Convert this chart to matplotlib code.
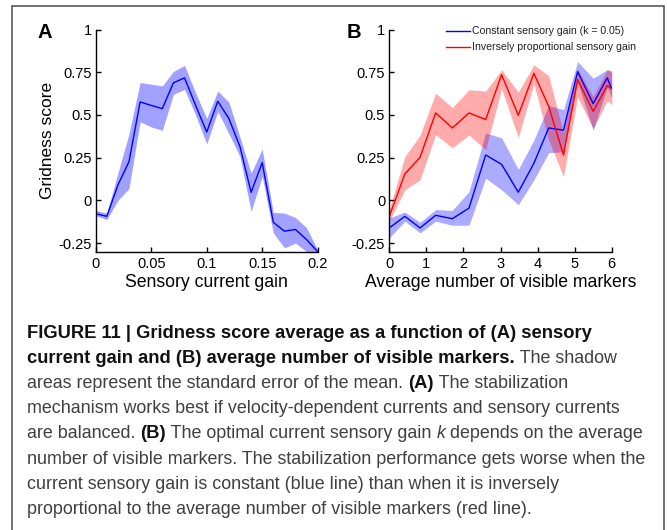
import matplotlib
matplotlib.use('Agg')
import matplotlib.pyplot as plt
from matplotlib.patches import Rectangle

W, H = 667, 530
FAM = ['Liberation Sans', 'DejaVu Sans']
plt.rcParams['font.family'] = FAM

# ---------------- data ----------------
# Panel A
gain = [0.00, 0.01, 0.02, 0.03, 0.04, 0.05, 0.06, 0.07, 0.08, 0.09, 0.10,
        0.11, 0.12, 0.13, 0.14, 0.15, 0.16, 0.17, 0.18, 0.19, 0.20]
gain_mean = [-0.078, -0.093, 0.09, 0.227, 0.576, 0.556, 0.537, 0.688, 0.717, 0.556, 0.40,
             0.58, 0.479, 0.314, 0.047, 0.221, -0.128, -0.18, -0.17, -0.229, -0.30]
gain_upper = [-0.058, -0.074, 0.16, 0.39, 0.69, 0.68, 0.67, 0.755, 0.79, 0.63, 0.48,
              0.64, 0.575, 0.37, 0.16, 0.30, -0.07, -0.074, -0.10, -0.16, -0.29]
gain_lower = [-0.089, -0.112, 0.0, 0.07, 0.46, 0.43, 0.41, 0.62, 0.65, 0.50, 0.33,
              0.52, 0.39, 0.256, -0.064, 0.14, -0.19, -0.277, -0.25, -0.30, -0.32]

# Panel B
markers = [0.0, 0.42, 0.83, 1.25, 1.70, 2.15, 2.60, 3.03, 3.48, 3.90, 4.30, 4.70, 5.08, 5.50, 5.88, 6.0]
const_mean = [-0.161, -0.093, -0.161, -0.087, -0.107, -0.045, 0.266, 0.211, 0.048, 0.217,
              0.424, 0.411, 0.754, 0.566, 0.717, 0.653]
const_upper = [-0.103, -0.068, -0.128, -0.054, -0.058, 0.052, 0.395, 0.366, 0.182, 0.353,
               0.556, 0.531, 0.812, 0.715, 0.765, 0.75]
const_lower = [-0.219, -0.122, -0.19, -0.122, -0.145, -0.145, 0.13, 0.062, -0.025, 0.12,
               0.279, 0.285, 0.692, 0.411, 0.663, 0.60]
inv_mean = [-0.093, 0.155, 0.252, 0.512, 0.424, 0.512, 0.473, 0.736, 0.498, 0.744,
            0.55, 0.266, 0.707, 0.521, 0.672, 0.653]
inv_upper = [-0.05, 0.256, 0.382, 0.628, 0.543, 0.647, 0.64, 0.764, 0.634, 0.793,
             0.73, 0.391, 0.769, 0.607, 0.765, 0.76]
inv_lower = [-0.12, 0.062, 0.12, 0.386, 0.308, 0.382, 0.298, 0.653, 0.368, 0.682,
             0.353, 0.14, 0.605, 0.42, 0.585, 0.56]

yticks = [-0.25, 0, 0.25, 0.5, 0.75, 1]
ytick_labels = ['-0.25', '0', '0.25', '0.5', '0.75', '1']
xticksA = [0, 0.05, 0.1, 0.15, 0.2]
xtick_labelsA = ['0', '0.05', '0.1', '0.15', '0.2']
xticksB = [0, 1, 2, 3, 4, 5, 6]
xtick_labelsB = ['0', '1', '2', '3', '4', '5', '6']

legend_labels = ['Constant sensory gain (k = 0.05)', 'Inversely proportional sensory gain']

caption_lines = [
    [("FIGURE 11 | Gridness score average as a function of (A) sensory", 'bold', 'normal')],
    [("current gain and (B) average number of visible markers.", 'bold', 'normal'),
     (" The shadow", 'normal', 'normal')],
    [("areas represent the standard error of the mean. ", 'normal', 'normal'),
     ("(A)", 'bold', 'normal'), (" The stabilization", 'normal', 'normal')],
    [("mechanism works best if velocity-dependent currents and sensory currents", 'normal', 'normal')],
    [("are balanced. ", 'normal', 'normal'), ("(B)", 'bold', 'normal'),
     (" The optimal current sensory gain ", 'normal', 'normal'), ("k", 'normal', 'italic'),
     (" depends on the average", 'normal', 'normal')],
    [("number of visible markers. The stabilization performance gets worse when the", 'normal', 'normal')],
    [("current sensory gain is constant (blue line) than when it is inversely", 'normal', 'normal')],
    [("proportional to the average number of visible markers (red line).", 'normal', 'normal')],
]

# ---------------- figure ----------------
fig = plt.figure(figsize=(W / 100, H / 100), dpi=100)


def fx(x):
    return x / W


def fy(y):
    return 1 - y / H


ax_top, ax_bot = 29.5, 251.7
axA = fig.add_axes([fx(95.7), fy(ax_bot), (317.7 - 95.7) / W, (ax_bot - ax_top) / H])
axB = fig.add_axes([fx(389.3), fy(ax_bot), (611.7 - 389.3) / W, (ax_bot - ax_top) / H])

BLUE = (0, 0, 1)
RED = (1, 0, 0)

axA.fill_between(gain, gain_lower, gain_upper, color=BLUE, alpha=0.37, lw=0)
axA.plot(gain, gain_mean, color=BLUE, lw=1.0)

axB.fill_between(markers, const_lower, const_upper, color=BLUE, alpha=0.33, lw=0)
lb, = axB.plot(markers, const_mean, color=BLUE, lw=1.0)
axB.fill_between(markers, inv_lower, inv_upper, color=RED, alpha=0.33, lw=0)
lr, = axB.plot(markers, inv_mean, color=RED, lw=1.0)

for ax, xt, xl, xlim in ((axA, xticksA, xtick_labelsA, (0, 0.2)), (axB, xticksB, xtick_labelsB, (0, 6))):
    ax.set_xlim(*xlim)
    ax.set_ylim(-0.3, 1)
    ax.set_xticks(xt)
    ax.set_xticklabels(xl)
    ax.set_yticks(yticks)
    ax.set_yticklabels(ytick_labels)
    ax.spines[['top', 'right']].set_visible(False)
    for s in ('left', 'bottom'):
        ax.spines[s].set_linewidth(1.0)
        ax.spines[s].set_color('black')
    ax.tick_params(direction='in', length=3.5, width=1.0, labelsize=10.5, pad=3, colors='black')
    ax.tick_params(axis='x', pad=4)
    ax.set_facecolor('none')

axA.set_xlabel('Sensory current gain', fontsize=12.7, labelpad=2)
axA.set_ylabel('Gridness score', fontsize=12.5, labelpad=2)
axB.set_xlabel('Average number of visible markers', fontsize=12.7, labelpad=2)

fig.legend([lb, lr], legend_labels, loc='upper left', bbox_to_anchor=(fx(446), fy(26.5)),
           frameon=False, fontsize=7.6, handlelength=2.3, handletextpad=0.15,
           labelspacing=0.55, borderpad=0, borderaxespad=0, labelcolor='#222222')

fig.text(fx(38), fy(33), 'A', fontsize=14.5, weight='bold', va='center', ha='left')
fig.text(fx(346.5), fy(33), 'B', fontsize=14.5, weight='bold', va='center', ha='left')

# border box
fig.add_artist(Rectangle((fx(12), fy(545)), (664 - 12) / W, (545 - 6) / H,
                         transform=fig.transFigure, fill=False, ec='#4a4a4a', lw=1.1))

# ---------------- caption ----------------
renderer = fig.canvas.get_renderer()


def seg_width(s, size, weight, style):
    t1 = fig.text(0, 0, '|' + s + '|', fontsize=size, weight=weight, style=style)
    t2 = fig.text(0, 0, '||', fontsize=size, weight=weight, style=style)
    w = t1.get_window_extent(renderer).width - t2.get_window_extent(renderer).width
    t1.remove()
    t2.remove()
    return w


w10 = seg_width(caption_lines[5][0][0], 10, 'normal', 'normal')
reg_size = 10 * (648 - 27) / w10
wb10 = seg_width(caption_lines[0][0][0], 10, 'bold', 'normal')
bold_size = 10 * (594 - 27) / wb10

x0 = 27
base0 = 338
step = 25.1
for i, line in enumerate(caption_lines):
    x = x0
    yb = base0 + i * step
    for s, weight, style in line:
        size = bold_size if weight == 'bold' else reg_size
        col = '#111111' if weight == 'bold' else '#404040'
        fig.text(fx(x), fy(yb), s, fontsize=size, weight=weight, style=style,
                 va='baseline', ha='left', color=col)
        x += seg_width(s, size, weight, style)

fig.savefig('out.png', dpi=100)
